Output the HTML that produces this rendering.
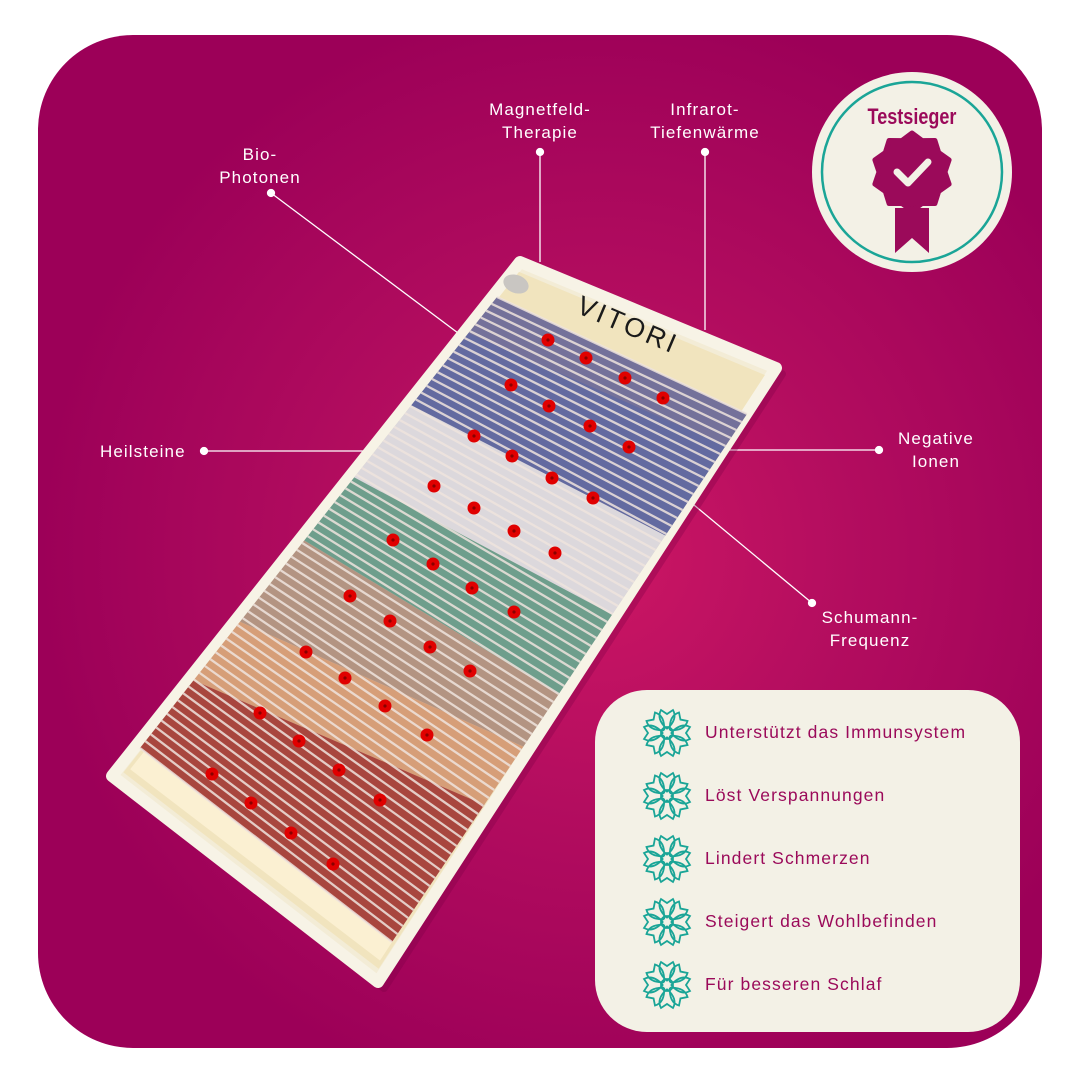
<!DOCTYPE html>
<html><head><meta charset="utf-8">
<style>
html,body{margin:0;padding:0;background:#fff;}
body{width:1080px;height:1080px;position:relative;overflow:hidden;font-family:"Liberation Sans",sans-serif;}
.bg{position:absolute;left:38px;top:35px;width:1004px;height:1013px;border-radius:95px;
background:radial-gradient(ellipse 560px 560px at 560px 520px,#cc1664 0%,#b30d5f 45%,#9c0058 100%);overflow:hidden;}
.lbl{position:absolute;color:#fff;font-size:17px;line-height:22.5px;text-align:center;letter-spacing:1.1px;}
.panel{position:absolute;left:595px;top:690px;width:425px;height:342px;border-radius:52px;background:#f3f1e6;}
.item{position:absolute;left:705px;color:#9b0a5a;font-size:17.5px;letter-spacing:1.1px;}
svg{position:absolute;left:0;top:0;}
</style></head><body>
<div class="bg"></div>
<svg id="s" width="1080" height="1080" viewBox="0 0 1080 1080">
<g stroke="#fff" stroke-width="1.3" fill="#fff">
<line x1="540" y1="152" x2="540" y2="262"/><circle cx="540" cy="152" r="3.5"/>
<line x1="705" y1="152" x2="705" y2="330"/><circle cx="705" cy="152" r="3.5"/>
<line x1="271" y1="193" x2="462" y2="336"/><circle cx="271" cy="193" r="3.5"/>
<line x1="204" y1="451" x2="372" y2="451"/><circle cx="204" cy="451" r="3.5"/>
<line x1="879" y1="450" x2="728" y2="450"/><circle cx="879" cy="450" r="3.5"/>
<line x1="812" y1="603" x2="694" y2="505"/><circle cx="812" cy="603" r="3.5"/>
</g>
<g id="mat"></g>
<g id="dots"></g>
<circle cx="912" cy="172" r="100" fill="#f3f1e6"/>
<circle cx="912" cy="172" r="90" fill="none" stroke="#1aa597" stroke-width="2.5"/>
<text x="912" y="124" text-anchor="middle" font-family="Liberation Sans Narrow, Liberation Sans, sans-serif" font-weight="bold" font-size="22" fill="#9b0a5a" transform="translate(912 0) scale(0.82 1) translate(-912 0)">Testsieger</text>
<g id="seal"></g>
<path d="M895 208 L929 208 L929 253 L912 238 L895 253 Z" fill="#9b0a5a"/>
<path d="M897 172 L908 183 L928 162" fill="none" stroke="#f3f1e6" stroke-width="7" stroke-linecap="round" stroke-linejoin="round"/>
</svg>
<div class="lbl" style="left:465px;top:99px;width:150px;">Magnetfeld-<br>Therapie</div>
<div class="lbl" style="left:630px;top:99px;width:150px;">Infrarot-<br>Tiefenwärme</div>
<div class="lbl" style="left:185px;top:144px;width:150px;">Bio-<br>Photonen</div>
<div class="lbl" style="left:100px;top:441px;">Heilsteine</div>
<div class="lbl" style="left:861px;top:428px;width:150px;">Negative<br>Ionen</div>
<div class="lbl" style="left:795px;top:607px;width:150px;">Schumann-<br>Frequenz</div>
<div class="panel"></div>
<div class="item" style="top:722px">Unterstützt das Immunsystem</div>
<div class="item" style="top:785px">Löst Verspannungen</div>
<div class="item" style="top:848px">Lindert Schmerzen</div>
<div class="item" style="top:911px">Steigert das Wohlbefinden</div>
<div class="item" style="top:974px">Für besseren Schlaf</div>
<svg id="icons" width="1080" height="1080"></svg>
<script>
var NS="http://www.w3.org/2000/svg";
function el(p,t,a){var e=document.createElementNS(NS,t);for(var k in a)e.setAttribute(k,a[k]);p.appendChild(e);return e;}
function Q(TL,TR,BR,BL){return function(u,v){var ax=TL[0]+(TR[0]-TL[0])*u,ay=TL[1]+(TR[1]-TL[1])*u,bx=BL[0]+(BR[0]-BL[0])*u,by=BL[1]+(BR[1]-BL[1])*u;return [ax+(bx-ax)*v,ay+(by-ay)*v];};}
var M=Q([520,262],[776,368],[378,982],[112,776]);
var S=Q([497,297],[747,414],[392,942],[140,748]);
function pts(a){return a.map(function(p){return p[0]+","+p[1];}).join(" ");}
var m=document.getElementById("mat");
el(m,"polygon",{points:pts([M(0,0),M(1,0),M(1,1),M(0,1)]),fill:"#7a0045",opacity:"0.3",transform:"translate(6,6)","stroke":"#7a0045","stroke-width":"8","stroke-linejoin":"round"});
el(m,"polygon",{points:pts([M(0,0),M(1,0),M(1,1),M(0,1)]),fill:"#f3ecd6",stroke:"#f7f3e6","stroke-width":"12","stroke-linejoin":"round"});
el(m,"polygon",{points:pts([M(0.02,0.015),M(0.98,0.015),M(0.98,0.985),M(0.02,0.985)]),fill:"#f1e4be"});
el(m,"polygon",{points:pts([M(0.03,0.75),M(0.97,0.75),M(0.97,0.975),M(0.03,0.975)]),fill:"#fbf0d2"});
el(m,"polygon",{points:pts([S(0,0),S(1,0),S(1,1),S(0,1)]),fill:"#d9cfc4"});
var B=[[0,0,"#74719a"],[0.24,0.23,"#dcd8dc"],[0.40,0.38,"#6e9e8c"],[0.54,0.53,"#b39482"],[0.72,0.63,"#d69e78"],[0.85,0.74,"#a8463e"],[1,1,null]];
for(var i=0;i<B.length-1;i++){var b=B[i],n=B[i+1];
el(m,"polygon",{points:pts([S(0,b[0]),S(1,b[1]),S(1,n[1]),S(0,n[0])]),fill:b[2]});}
el(m,"polygon",{points:pts([S(0,0.08),S(1,0.06),S(1,0.23),S(0,0.24)]),fill:"#4f62a8",opacity:"0.45"});
var N=66;
for(var i=0;i<=N;i++){var v=i/N;var a=S(0,v),c=S(1,v);
el(m,"line",{x1:a[0],y1:a[1],x2:c[0],y2:c[1],stroke:"#efe4de","stroke-width":"2.3",opacity:"0.85"});}
var c0=[628,325];
el(m,"text",{x:c0[0],y:c0[1]+9,"text-anchor":"middle","font-size":"27","font-family":"Liberation Sans, sans-serif","letter-spacing":"3",fill:"#1a1a1a",transform:"rotate(23 "+c0[0]+" "+c0[1]+")"}).textContent="VITORI";
el(m,"ellipse",{cx:516,cy:284,rx:13,ry:9,fill:"#c9c6c2",transform:"rotate(20 516 284)"});
var D=[[548,340],[586,358],[625,378],[663,398],[511,385],[549,406],[590,426],[629,447],[474,436],[512,456],[552,478],[593,498],[434,486],[474,508],[514,531],[555,553],[393,540],[433,564],[472,588],[514,612],[350,596],[390,621],[430,647],[470,671],[306,652],[345,678],[385,706],[427,735],[260,713],[299,741],[339,770],[380,800],[212,774],[251,803],[291,833],[333,864]];
var dg=document.getElementById("dots");
D.forEach(function(d){el(dg,"circle",{cx:d[0],cy:d[1],r:6.5,fill:"#e00000"});el(dg,"circle",{cx:d[0],cy:d[1],r:1.6,fill:"#8a0000"});});
var sg=document.getElementById("seal"),pp=[];
for(var k=0;k<20;k++){var r=k%2?33:39,an=k*Math.PI/10;pp.push((912+r*Math.sin(an))+","+(172-r*Math.cos(an)));}
el(sg,"polygon",{points:pp.join(" "),fill:"#9b0a5a","stroke":"#9b0a5a","stroke-width":"5","stroke-linejoin":"round"});
var ic=document.getElementById("icons");
[733,796,859,922,985].forEach(function(y){var cx=667;var g=el(ic,"g",{fill:"none",stroke:"#1aa597","stroke-width":"1.8"});
for(var j=0;j<8;j++){el(g,"path",{d:"M"+cx+" "+(y-4)+" Q"+(cx-11)+" "+(y-14)+" "+(cx-6)+" "+(y-23)+" L"+cx+" "+(y-19)+" L"+(cx+6)+" "+(y-23)+" Q"+(cx+11)+" "+(y-14)+" "+cx+" "+(y-4),transform:"rotate("+(j*45)+" "+cx+" "+y+")"});}
el(g,"circle",{cx:cx,cy:y,r:6});});
</script>
</body></html>
